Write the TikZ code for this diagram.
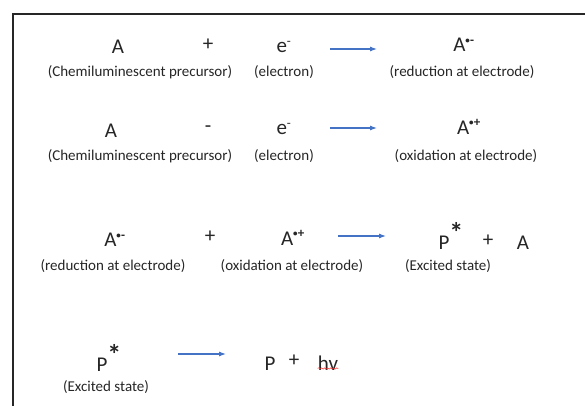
\documentclass[tikz,border=0pt]{standalone}
\usepackage{fontspec}
\setmainfont{Carlito}
\usetikzlibrary{arrows.meta,decorations.pathmorphing}
\definecolor{arrowblue}{HTML}{4472C4}
\definecolor{txt}{HTML}{262626}
\tikzset{
  sym/.style={font=\fontsize{21}{22}\selectfont, text=txt, inner sep=0pt},
  lbl/.style={font=\fontsize{15}{16}\selectfont, text=txt, inner sep=0pt},
  rxn/.style={draw=arrowblue, line width=1.1pt, -{Latex[length=7pt,width=5pt]}},
}
\newcommand{\rad}[1]{\textsuperscript{\raisebox{0.15ex}{\fontsize{9}{9}\selectfont\bfseries•}\kern0.3pt{\fontsize{13}{13}\selectfont\bfseries#1}}}
\newcommand{\elec}{\textsuperscript{\fontsize{13}{13}\selectfont -}}
\newcommand{\exc}{\raisebox{0.75ex}{\fontsize{28}{28}\selectfont\bfseries *}}
\begin{document}
\begin{tikzpicture}[x=1pt,y=-1pt]
\useasboundingbox (0,0) rectangle (585,406);
\fill[white] (0,0) rectangle (585,406);
\draw[line width=2pt, color=black!85] (12.5,406) -- (12.5,14) -- (585,14);
% Row 1
\node[sym] (a1) at (118,47) {A};
\node[sym] (p1) at (208,45) {+};
\node[sym] (e1) at (284,47) {e\elec};
\node[sym] (r1) at (464,45) {A\rad{-}};
\coordinate (s1) at (330,49);
\coordinate (t1) at (377,49);
\draw[rxn] (s1) -- (t1);
\node[lbl] (la1) at (140,72) {(Chemiluminescent precursor)};
\node[lbl] (le1) at (284,72) {(electron)};
\node[lbl] (lr1) at (462,72) {(reduction at electrode)};
% Row 2
\node[sym] (a2) at (111,131) {A};
\node[sym] (m2) at (208,129) {-};
\node[sym] (e2) at (284,129) {e\elec};
\node[sym] (r2) at (469,127) {A\rad{+}};
\coordinate (s2) at (330,128);
\coordinate (t2) at (377,128);
\draw[rxn] (s2) -- (t2);
\node[lbl] (la2) at (140,156) {(Chemiluminescent precursor)};
\node[lbl] (le2) at (284,156) {(electron)};
\node[lbl] (lr2) at (466,156) {(oxidation at electrode)};
% Row 3
\node[sym] (a3) at (115,240) {A\rad{-}};
\node[sym] (p3) at (210,237) {+};
\node[sym] (b3) at (293,238) {A\rad{+}};
\coordinate (s3) at (338,236);
\coordinate (t3) at (386,236);
\draw[rxn] (s3) -- (t3);
\node[sym] (ps3) at (451,236) {P\exc};
\node[sym] (q3) at (488,241) {+};
\node[sym] (c3) at (523,243) {A};
\node[lbl] (la3) at (113,266) {(reduction at electrode)};
\node[lbl] (lb3) at (292,266) {(oxidation at electrode)};
\node[lbl] (lc3) at (448,266) {(Excited state)};
% Row 4
\node[sym] (ps4) at (109,358) {P\exc};
\coordinate (s4) at (178,354);
\coordinate (t4) at (226,354);
\draw[rxn] (s4) -- (t4);
\node[sym] (p4) at (270,364) {P};
\node[sym] (q4) at (294,361) {+};
\node[sym] (hv) at (328,363) {hv};
\draw[red!80, line width=0.5pt, decorate, decoration={snake, amplitude=0.7pt, segment length=3pt}] ([yshift=2pt]hv.south west) -- ([yshift=2pt]hv.south east);
\node[lbl] (lc4) at (106,387) {(Excited state)};
\end{tikzpicture}
\end{document}
